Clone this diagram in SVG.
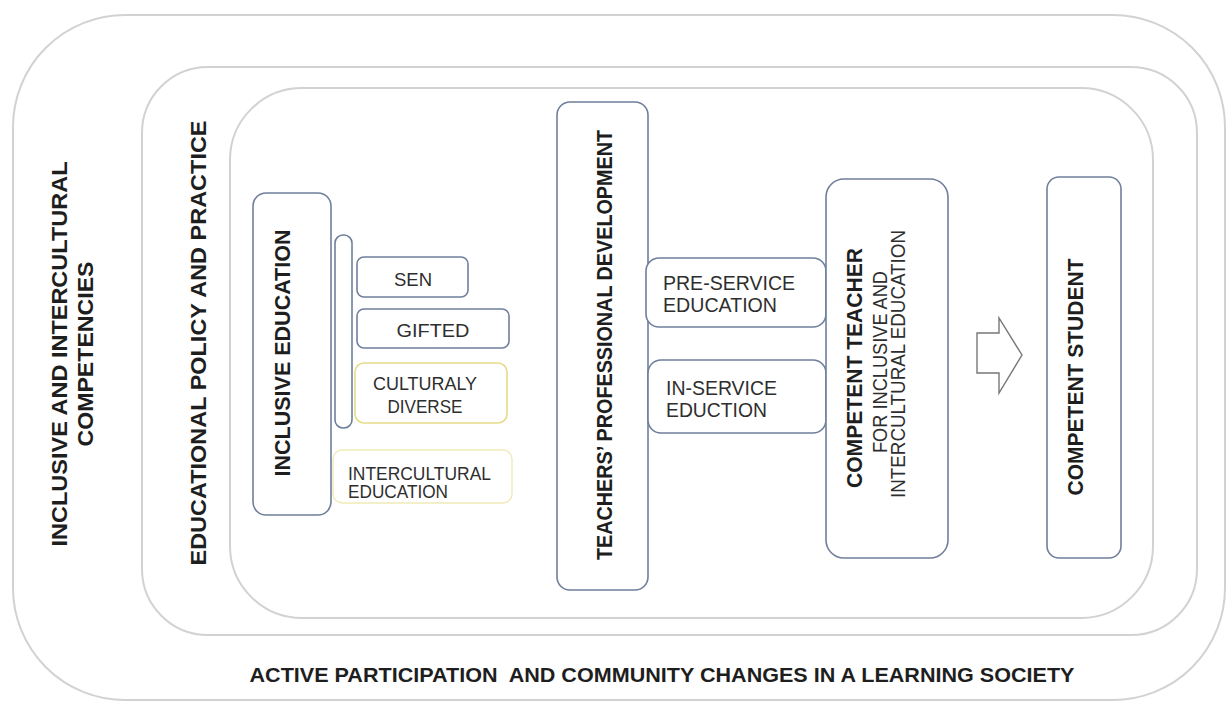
<svg xmlns="http://www.w3.org/2000/svg" width="1227" height="704" viewBox="0 0 1227 704">
<style>
.frame{fill:none;stroke:#d2d2d2;stroke-width:2}
.box{fill:#fff;stroke:#6f7f9c;stroke-width:1.6}
.ybox{fill:#fff;stroke:#e6db86;stroke-width:1.6}
.ybox2{fill:#fff;stroke:#f0eab8;stroke-width:1.4}
.t{font-family:"Liberation Sans",Arial,sans-serif;fill:#1e1e1e}
.b{font-weight:bold}
.n{fill:#2e2e2e}
.arrow{fill:#fff;stroke:#777;stroke-width:1.4}
</style>
<rect width="1227" height="704" fill="#fff"/>
<g id="frames">
<rect id="outer" class="frame" x="13" y="15" width="1212" height="685" rx="112"/>
<rect id="policy" class="frame" x="142" y="67" width="1055" height="568" rx="66"/>
<rect id="inner" class="frame" x="230" y="88" width="923" height="530" rx="72"/>
</g>
<g id="label-competencies">
<text class="t b" font-size="22" transform="translate(67,354) rotate(-90)" text-anchor="middle" textLength="385" lengthAdjust="spacingAndGlyphs">INCLUSIVE AND INTERCULTURAL</text>
<text class="t b" font-size="22" transform="translate(93,354) rotate(-90)" text-anchor="middle" textLength="185" lengthAdjust="spacingAndGlyphs">COMPETENCIES</text>
</g>
<g id="label-policy">
<text class="t b" font-size="22" transform="translate(206,343) rotate(-90)" text-anchor="middle" textLength="445" lengthAdjust="spacingAndGlyphs">EDUCATIONAL POLICY AND PRACTICE</text>
</g>
<g id="label-society">
<text class="t b" font-size="21" x="662" y="682" text-anchor="middle" textLength="825" lengthAdjust="spacingAndGlyphs" style="white-space:pre" xml:space="preserve">ACTIVE PARTICIPATION  AND COMMUNITY CHANGES IN A LEARNING SOCIETY</text>
</g>
<g id="inclusive-education">
<rect class="box" x="253" y="193" width="78" height="322" rx="13"/>
<text class="t b" font-size="22" transform="translate(290,353) rotate(-90)" text-anchor="middle" textLength="247" lengthAdjust="spacingAndGlyphs">INCLUSIVE EDUCATION</text>
</g>
<g id="bracket">
<rect class="box" x="335" y="235" width="17" height="193" rx="8"/>
</g>
<g id="sen">
<rect class="box" x="357" y="257" width="111" height="40" rx="7"/>
<text class="t n" font-size="18.5" x="413" y="286" text-anchor="middle" textLength="38" lengthAdjust="spacingAndGlyphs">SEN</text>
</g>
<g id="gifted">
<rect class="box" x="357" y="309" width="152" height="39" rx="7"/>
<text class="t n" font-size="18.5" x="433" y="337" text-anchor="middle" textLength="73" lengthAdjust="spacingAndGlyphs">GIFTED</text>
</g>
<g id="culturaly-diverse">
<rect class="ybox" x="355" y="363" width="152" height="60" rx="9"/>
<text class="t n" font-size="19" x="425" y="390" text-anchor="middle" textLength="104" lengthAdjust="spacingAndGlyphs">CULTURALY</text>
<text class="t n" font-size="19" x="425" y="413" text-anchor="middle" textLength="75" lengthAdjust="spacingAndGlyphs">DIVERSE</text>
</g>
<g id="intercultural-education">
<rect class="ybox2" x="333" y="450" width="179" height="53" rx="9"/>
<text class="t n" font-size="18" x="348" y="480" textLength="143" lengthAdjust="spacingAndGlyphs">INTERCULTURAL</text>
<text class="t n" font-size="18" x="348" y="498" textLength="100" lengthAdjust="spacingAndGlyphs">EDUCATION</text>
</g>
<g id="teachers-professional-development">
<rect class="box" x="557" y="102" width="91" height="488" rx="13"/>
<text class="t b" font-size="22" transform="translate(612,345) rotate(-90)" text-anchor="middle" textLength="430" lengthAdjust="spacingAndGlyphs">TEACHERS’ PROFESSIONAL DEVELOPMENT</text>
</g>
<g id="pre-service">
<rect class="box" x="646" y="258" width="180" height="69" rx="13"/>
<text class="t n" font-size="20.5" x="663" y="290" textLength="132" lengthAdjust="spacingAndGlyphs">PRE-SERVICE</text>
<text class="t n" font-size="20.5" x="663" y="312" textLength="114" lengthAdjust="spacingAndGlyphs">EDUCATION</text>
</g>
<g id="in-service">
<rect class="box" x="648" y="360" width="178" height="73" rx="13"/>
<text class="t n" font-size="20.5" x="666" y="395" textLength="111" lengthAdjust="spacingAndGlyphs">IN-SERVICE</text>
<text class="t n" font-size="20.5" x="666" y="417" textLength="101" lengthAdjust="spacingAndGlyphs">EDUCTION</text>
</g>
<g id="competent-teacher">
<rect class="box" x="826" y="179" width="122" height="379" rx="18"/>
<text class="t b" font-size="22" transform="translate(862,368) rotate(-90)" text-anchor="middle" textLength="240" lengthAdjust="spacingAndGlyphs">COMPETENT TEACHER</text>
<text class="t n" font-size="20" transform="translate(887,362) rotate(-90)" text-anchor="middle" textLength="182" lengthAdjust="spacingAndGlyphs">FOR INCLUSIVE AND</text>
<text class="t n" font-size="20" transform="translate(905,364) rotate(-90)" text-anchor="middle" textLength="268" lengthAdjust="spacingAndGlyphs">INTERCULTURAL EDUCATION</text>
</g>
<g id="competent-student">
<rect class="box" x="1047" y="177" width="74" height="381" rx="12"/>
<text class="t b" font-size="22" transform="translate(1083,377) rotate(-90)" text-anchor="middle" textLength="237" lengthAdjust="spacingAndGlyphs">COMPETENT STUDENT</text>
</g>
<g id="connectors">
<polygon class="arrow" points="977,333 999,333 999,318 1022,355 999,393 999,373 977,373"/>
</g>
</svg>
